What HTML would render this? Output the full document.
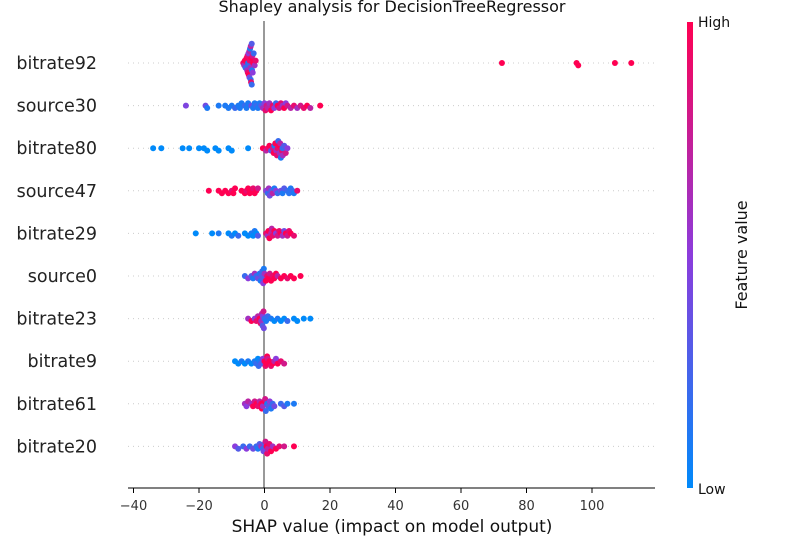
<!DOCTYPE html>
<html><head><meta charset="utf-8"><style>
body{margin:0;background:#fff;}
svg{font-family:"DejaVu Sans","Liberation Sans",sans-serif;}
</style></head><body>
<svg id="chart" width="800" height="550" xmlns="http://www.w3.org/2000/svg">
<defs><linearGradient id="cb" x1="0" y1="1" x2="0" y2="0">
<stop offset="0" stop-color="rgb(0,138,250)"/><stop offset="0.5" stop-color="rgb(140,60,220)"/><stop offset="1" stop-color="rgb(255,0,82)"/></linearGradient></defs>
<text x="392" y="12" text-anchor="middle" font-size="16" fill="#111">Shapley analysis for DecisionTreeRegressor</text>
<g id="grid"></g>
<line x1="264" y1="21" x2="264" y2="488" stroke="#999" stroke-width="2"/>
<g id="dots"></g>
<line x1="128" y1="488" x2="655" y2="488" stroke="#000" stroke-width="1"/>
<g id="ticks"></g>
<text x="392" y="532" text-anchor="middle" font-size="17" fill="#111">SHAP value (impact on model output)</text>
<rect x="687" y="22" width="6" height="466" fill="url(#cb)"/>
<text x="698" y="27" font-size="14" fill="#111">High</text>
<text x="698" y="494" font-size="14" fill="#111">Low</text>
<text transform="translate(747,255) rotate(-90)" text-anchor="middle" font-size="16" fill="#111">Feature value</text>
</svg>
<script>
const features=["bitrate92","source30","bitrate80","source47","bitrate29","source0","bitrate23","bitrate9","bitrate61","bitrate20"];
const xTicks=[-40,-20,0,20,40,60,80,100];
const shap0=[-6.5,-6.2,-6,-5.8,-5.5,-5.3,-5.1,-5,-4.9,-4.8,-4.7,-4.6,-4.5,-4.4,-4.3,-4.2,-4.1,-4,-3.9,-3.8,-3.7,-3.6,-3.5,-3.3,-3,-2.7,-5.2,-4.6,-4.2,-3.9,72.5,95.3,95.8,107,112];
const feat0=[0.9,0.6,1,0.2,1,0.6,0.9,0.1,0.5,1,0.2,0.7,0.9,0.1,0.6,0.2,0.9,1,0.3,0.1,0.8,0.5,1,0.2,0.6,0.9,0.9,0.4,0.7,0.2,1,1,1,1,1];
const shap1=[-24,-18,-17.5,-14,-12,-11,-10,-9,-8,-7.5,-7,-6,-5.5,-5,-4,-3.5,-3,-2.5,-2,-1.5,-1,-0.5,0,0.3,0.6,1,1.5,2,2.5,3,3.5,4,4.5,5,5.5,6,6.5,7,8,9,10,11,12,13,14,17];
const feat1=[0.45,0.4,0.1,0.1,0.1,0.1,0.1,0.2,0.1,0.1,0.1,0.2,0.1,0.1,0.4,0.1,0.1,0.2,0.1,0.1,0.3,0.6,0.5,0.9,0.8,0.7,0.6,1,0.9,0.5,0.2,1,0.8,0.9,0.6,1,0.5,0.8,0.7,0.9,0.6,0.8,0.9,1,0.7,1];
const shap2=[-34,-31.5,-25,-23,-20,-18.5,-17.5,-15,-14,-11,-10,-5,-0.5,0.5,1,1.5,2,2.5,3,3.3,3.6,4,4.2,4.5,4.8,5,5.3,5.6,6,6.5,7,2.8,3.8,4.6,5.5];
const feat2=[0,0,0,0,0,0,0,0,0,0,0,0,1,0.7,0.9,1,0.3,0.8,0.1,1,0.6,0.9,0.2,1,0.7,0.1,0.9,0.6,0.3,0.8,0.5,1,0.9,0.6,0.2];
const shap3=[-17,-14,-13,-12,-11,-10,-9.5,-9,-7,-6,-5.5,-5,-4.5,-4,-3.5,-3,-2.5,-2,0.5,1,1.3,1.6,2,2.5,3,3.5,4,5,5.5,6,7,7.5,8,8.5,9,10];
const feat3=[1,1,1,1,1,0.9,1,1,1,1,0.9,1,1,1,0.9,1,1,0.8,0.5,0.2,0.6,0.4,0.3,0.7,0.1,0.5,0.2,0.4,0.1,0.3,0.2,0.15,0.1,0.2,0.1,0.9];
const shap4=[-21,-16,-14,-11,-10,-9,-8,-6,-5,-4,-3.5,-3,-2.5,-2,0.5,1,1.5,2,2.5,3,3.5,4,4.5,5,5.5,6,6.5,7,7.5,8,9,1.2,2.2];
const feat4=[0,0,0.1,0,0.1,0,0.2,0,0,0.1,0,0.1,0,0.3,0.9,0.6,1,0.7,0.9,1,0.5,0.8,0.9,1,0.6,0.4,1,0.8,0.9,1,0.9,1,0.7];
const shap5=[-6,-5,-4,-3.5,-3,-2.5,-2,-1.5,-1,-0.7,-0.4,-0.2,0,0.4,0.8,1.2,1.6,2,2.5,3,3.5,4,5,6,7,8,9,11,-1.2,-0.5];
const feat5=[0.2,0.5,0.3,0.1,0.6,0.2,0.4,0.1,0.3,0.2,0.5,0.1,0.6,1,0.9,1,0.8,1,0.9,1,1,0.7,1,1,0.9,1,1,1,0.1,0.3];
const shap6=[-5,-4,-3,-2.5,-2,-1.5,-1,-0.6,-0.3,0,-0.5,-1.2,0.5,1,2,3,4,5,6,7,9,10,12,14,-0.8,-0.2];
const feat6=[0.6,1,0.5,0.9,0.7,1,0.6,0.3,0.8,0.2,0.5,0.9,0.1,0.2,0.1,0,0.1,0,0,0.2,0,0,0,0,0.7,0.4];
const shap7=[-9,-8,-7,-6,-5,-4,-3,-2.5,-2,-1.5,-1,-0.5,0,0.3,0.6,1,1.5,2,2.5,3,3.5,4,5,6,-1.8,0.8];
const feat7=[0,0,0.1,0,0.1,0,0.1,0.2,0,0.1,0.3,0.5,1,0.9,1,0.8,1,0.9,1,0.7,0.5,1,0.9,0.8,0.2,1];
const shap8=[-6,-5.5,-5,-4,-3.5,-3,-2.5,-2,-1.5,-1,-0.5,0,0.4,0.8,1.2,1.6,2,2.5,3,5,6,7,9,-0.8,0.2];
const feat8=[0.6,0.5,0.7,0.6,1,0.8,1,0.9,0.7,1,0.6,1,0.2,0.1,0.3,0.5,0.1,0.2,0.4,0.2,0.3,0.1,0.1,1,0.8];
const shap9=[-9,-8,-6.5,-5.5,-4.5,-3.5,-2.5,-2,-1.5,-1,-0.5,0,0.3,0.6,1,1.5,2,2.5,3.5,4.5,6,9,-0.3,0.8];
const feat9=[0.5,0.3,0.2,0.5,0.2,0.4,0.2,0.1,0.3,0.6,0.2,0.3,0.8,1,0.7,0.9,1,0.6,1,0.9,0.8,1,0.4,0.9];
const shapRows=[shap0,shap1,shap2,shap3,shap4,shap5,shap6,shap7,shap8,shap9];
const featRows=[feat0,feat1,feat2,feat3,feat4,feat5,feat6,feat7,feat8,feat9];

const NS="http://www.w3.org/2000/svg";
const xMin=-40,xMax=100,pxMin=133.5,pxMax=592;
function xs(v){return pxMin+(v-xMin)*(pxMax-pxMin)/(xMax-xMin);}
function ys(i){return 63+i*42.6;}
function color(t){
  const a=[0,138,250],m=[140,60,220],b=[255,0,82];
  let c;
  if(t<0.5){const u=t/0.5;c=a.map((v,k)=>Math.round(v+(m[k]-v)*u));}
  else{const u=(t-0.5)/0.5;c=m.map((v,k)=>Math.round(v+(b[k]-v)*u));}
  return `rgb(${c[0]},${c[1]},${c[2]})`;
}
const grid=document.getElementById('grid'),dots=document.getElementById('dots'),ticks=document.getElementById('ticks');
const svg=document.getElementById('chart');
features.forEach((f,i)=>{
  const y=ys(i);
  const l=document.createElementNS(NS,'line');
  l.setAttribute('x1',128);l.setAttribute('x2',655);l.setAttribute('y1',y);l.setAttribute('y2',y);
  l.setAttribute('stroke','#ccc');l.setAttribute('stroke-dasharray','1 4');
  
  
  grid.appendChild(l);
  const t=document.createElementNS(NS,'text');
  t.setAttribute('x',97);t.setAttribute('y',y+6);t.setAttribute('text-anchor','end');
  t.setAttribute('font-size','17.5');t.setAttribute('fill','#222');
  t.textContent=f;
  
  
  svg.appendChild(t);
  const sv=shapRows[i],fv=featRows[i];
  const idx=sv.map((_,k)=>k).sort((p,q)=>sv[p]-sv[q]);
  const placed=[];const r=3,d=2.4;
  idx.forEach(k=>{
    const px=xs(sv[k]);let off=0;
    for(let s=0;s<30;s++){
      off=(s%2?1:-1)*Math.ceil(s/2)*d;
      if(!placed.some(p=>Math.abs(p[0]-px)<r*1.6&&Math.abs(p[1]-off)<d*0.9))break;
    }
    placed.push([px,off]);
    const c=document.createElementNS(NS,'circle');
    c.setAttribute('cx',px);c.setAttribute('cy',y+off);c.setAttribute('r',r);
    c.setAttribute('fill',color(fv[k]));
    
    
    dots.appendChild(c);
  });
});
xTicks.forEach(v=>{
  const x=xs(v);
  const l=document.createElementNS(NS,'line');
  l.setAttribute('x1',x);l.setAttribute('x2',x);l.setAttribute('y1',488);l.setAttribute('y2',493);
  l.setAttribute('stroke','#000');
  
  
  ticks.appendChild(l);
  const t=document.createElementNS(NS,'text');
  t.setAttribute('x',x);t.setAttribute('y',510);t.setAttribute('text-anchor','middle');
  t.setAttribute('font-size','13');t.setAttribute('fill','#333');
  t.textContent=v<0?'\u2212'+Math.abs(v):String(v);
  
  
  ticks.appendChild(t);
});
</script>
</body></html>
